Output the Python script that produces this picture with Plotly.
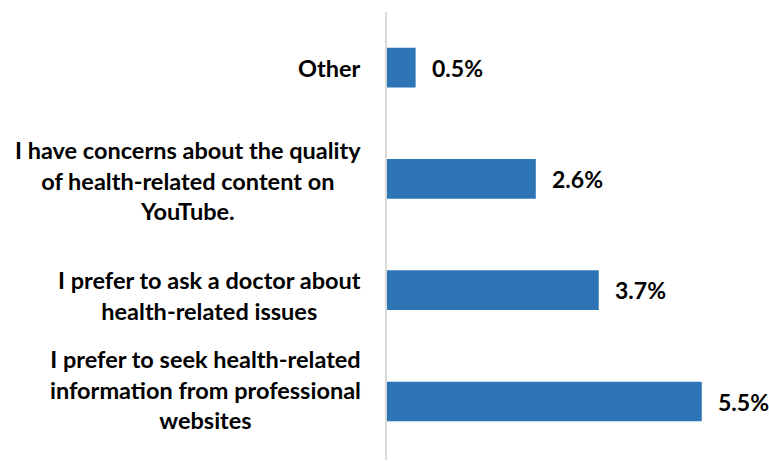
import plotly.graph_objects as go

# Reasons for not using YouTube for health information (top to bottom)
categories = [
    "Other",
    "I have concerns about the quality<br>of health-related content on<br>YouTube.",
    "I prefer to ask a doctor about<br>health-related issues",
    "I prefer to seek health-related<br>information from professional<br>websites",
]
values = [0.5, 2.6, 3.7, 5.5]
value_labels = ["0.5%", "2.6%", "3.7%", "5.5%"]

BAR_COLOR = "#2E75B6"
FONT = "Lato"
# vertical nudge (px) for each category label block
label_shift = [0, -2, -5, 12]

fig = go.Figure(
    go.Bar(
        x=values,
        y=categories,
        orientation="h",
        marker=dict(color=BAR_COLOR, line=dict(width=0)),
        hoverinfo="skip",
    )
)

annotations = []
for cat, shift in zip(categories, label_shift):
    annotations.append(dict(
        x=0, xref="paper", y=cat, yref="y",
        text=cat, showarrow=False,
        xanchor="right", yanchor="middle", align="center",
        xshift=-24, yshift=shift,
        font=dict(family=FONT, size=23.5, color="#000000", weight="bold"),
    ))
for cat, v, lab in zip(categories, values, value_labels):
    annotations.append(dict(
        x=v, xref="x", y=cat, yref="y",
        text=lab, showarrow=False,
        xanchor="left", yanchor="middle", xshift=14,
        font=dict(family=FONT, size=23, color="#000000", weight="bold"),
    ))

fig.update_layout(
    width=769, height=461,
    margin=dict(l=387, r=10, t=12, b=1),
    paper_bgcolor="white", plot_bgcolor="white",
    bargap=0.643,
    showlegend=False,
    annotations=annotations,
    xaxis=dict(range=[0, 6.5], visible=False, fixedrange=True),
    yaxis=dict(
        autorange="reversed",
        showticklabels=False, ticks="",
        showgrid=False, zeroline=False,
        showline=True, linecolor="#d9d9d9", linewidth=2,
        fixedrange=True,
    ),
)

fig.write_html("out.html")
